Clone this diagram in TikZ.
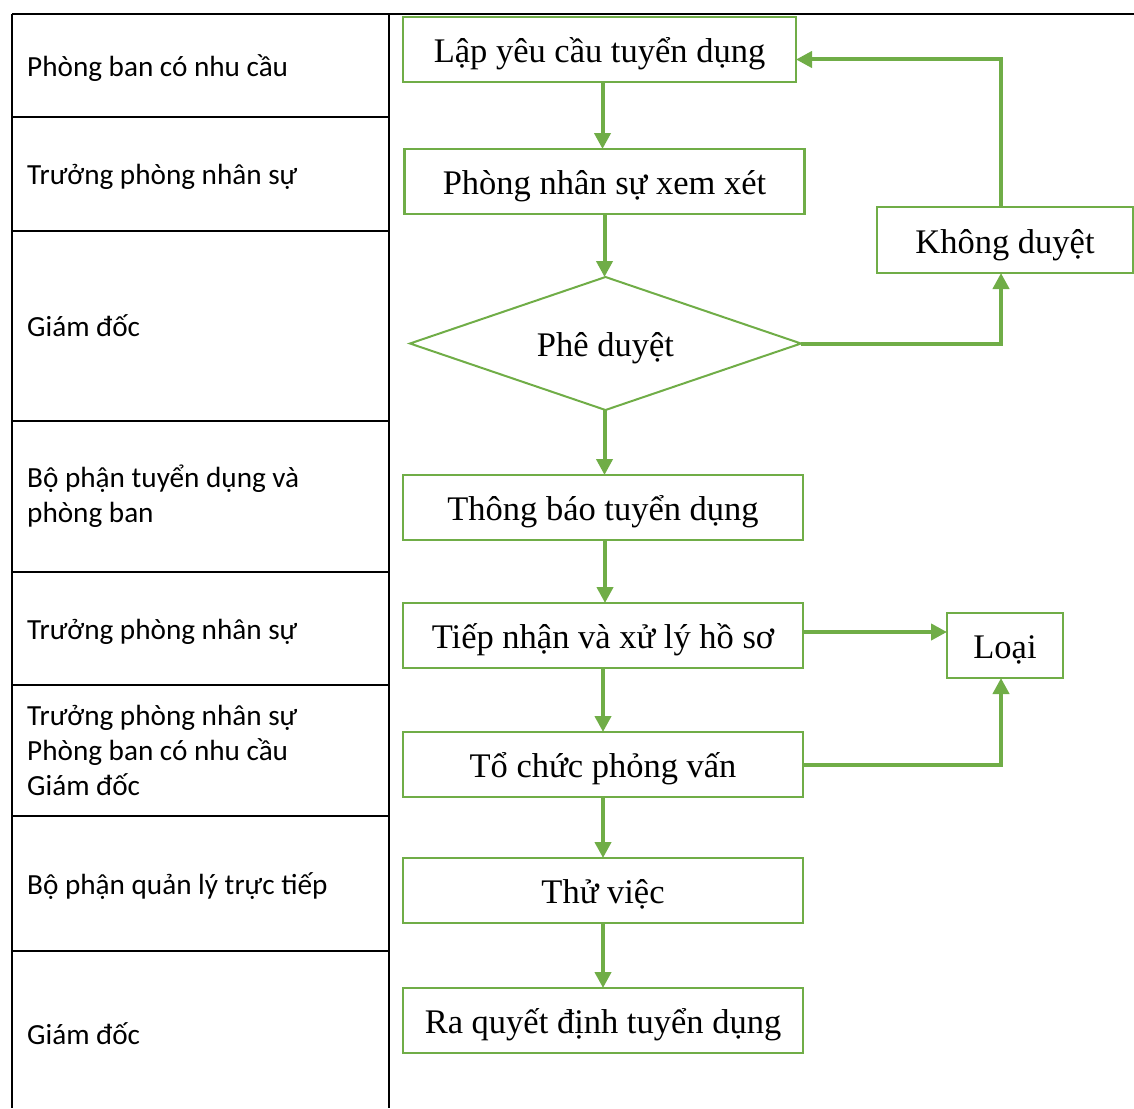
\documentclass[tikz,border=0pt]{standalone}
\usepackage{fontspec}
\setmainfont{Liberation Serif}
\newfontfamily\lanefont{Carlito}
\usetikzlibrary{positioning,shapes.geometric,arrows.meta}
\definecolor{flowgreen}{HTML}{70AD47}
\tikzset{
	flow/.style={x=1pt,y=-1pt,node distance=64pt},
	process/.style={rectangle,draw=flowgreen,line width=2.5pt,outer sep=0pt,
		minimum width=400pt,minimum height=65pt,inner sep=0pt,
		text height=30pt,text depth=4pt,
		font=\fontsize{34.5}{40}\selectfont},
	decision/.style={diamond,draw=flowgreen,line width=2pt,aspect=2.94,outer sep=0pt,
		minimum width=391pt,minimum height=133pt,inner sep=0pt,
		text height=30pt,text depth=4pt,
		font=\fontsize{34.5}{40}\selectfont},
	lane/.style={anchor=west,align=left,inner sep=0pt,
		font=\lanefont\fontsize{29.2}{35}\selectfont},
	lane one/.style={lane,text height=23pt,text depth=2pt},
	grid line/.style={draw=black,line width=2pt},
	link/.style={-{Triangle[length=16pt,width=16pt]},draw=flowgreen,line width=4pt}
}

\begin{document}
\begin{tikzpicture}[flow]
	\useasboundingbox (0,0) rectangle (1134,1108);
	
	% lanes
	\draw[grid line] (12,14) -- (1134,14);
	\draw[grid line] (12,14) -- (12,1108);
	\draw[grid line] (389,14) -- (389,1108);
	\foreach \y in {117,231,421,572,685,816,951}
		\draw[grid line] (12,\y) -- (389,\y);
	
	\node[lane one] (r1) at (27,65.5) {Phòng ban có nhu cầu};
	\node[lane one] (r2) at (27,174) {Trưởng phòng nhân sự};
	\node[lane one] (r3) at (27,326) {Giám đốc};
	\node[lane] (r4) at (27,496.5) {Bộ phận tuyển dụng và\\phòng ban};
	\node[lane one] (r5) at (27,628.5) {Trưởng phòng nhân sự};
	\node[lane] (r6) at (27,750.5) {Trưởng phòng nhân sự\\Phòng ban có nhu cầu\\Giám đốc};
	\node[lane one] (r7) at (27,883.5) {Bộ phận quản lý trực tiếp};
	\node[lane one] (r8) at (27,1034) {Giám đốc};
	
	% flow
	\node[process, minimum width=393pt] (lap) at (599.5,49.5) {Lập yêu cầu tuyển dụng};
	\node[process, xshift=5pt] (xem) [below=67pt of lap] {Phòng nhân sự xem xét};
	\node[decision, xshift=1pt] (duyet) [below=63pt of xem] {Phê duyệt};
	\node[process, xshift=-2.5pt] (tb) [below=65pt of duyet] {Thông báo tuyển dụng};
	\node[process] (tn) [below=63pt of tb] {Tiếp nhận và xử lý hồ sơ};
	\node[process] (pv) [below=64pt of tn] {Tổ chức phỏng vấn};
	\node[process] (tv) [below=61pt of pv] {Thử việc};
	\node[process] (qd) [below=65pt of tv] {Ra quyết định tuyển dụng};
	\node[process, minimum width=256pt, minimum height=66pt] (kd) at (1005,240) {Không duyệt};
	\node[process, minimum width=116pt] (loai) at (1005,645.5) {Loại};
	
	\draw[link] ([xshift=-2pt]lap.south -| xem.north) -- ([xshift=-2pt]xem.north);
	\draw[link] (xem.south) -- (xem.south |- duyet.north);
	\draw[link] ([xshift=-1pt]duyet.south) -- ([xshift=-1pt]duyet.south |- tb.north);
	\draw[link] ([xshift=2pt]tb.south) -- ([xshift=2pt]tn.north);
	\draw[link] (tn) -- (pv);
	\draw[link] (pv) -- (tv);
	\draw[link] (tv) -- (qd);
	\draw[link] (duyet.east) -| ([xshift=-4pt]kd.south);
	\draw[link] ([xshift=-4pt]kd.north) |- ([yshift=-10pt]lap.east);
	\draw[link] ([yshift=3.5pt]tn.east) -- ([yshift=3.5pt]tn.east -| loai.west);
	\draw[link] (pv.east) -| ([xshift=-4pt]loai.south);
	
\end{tikzpicture}
\end{document}
